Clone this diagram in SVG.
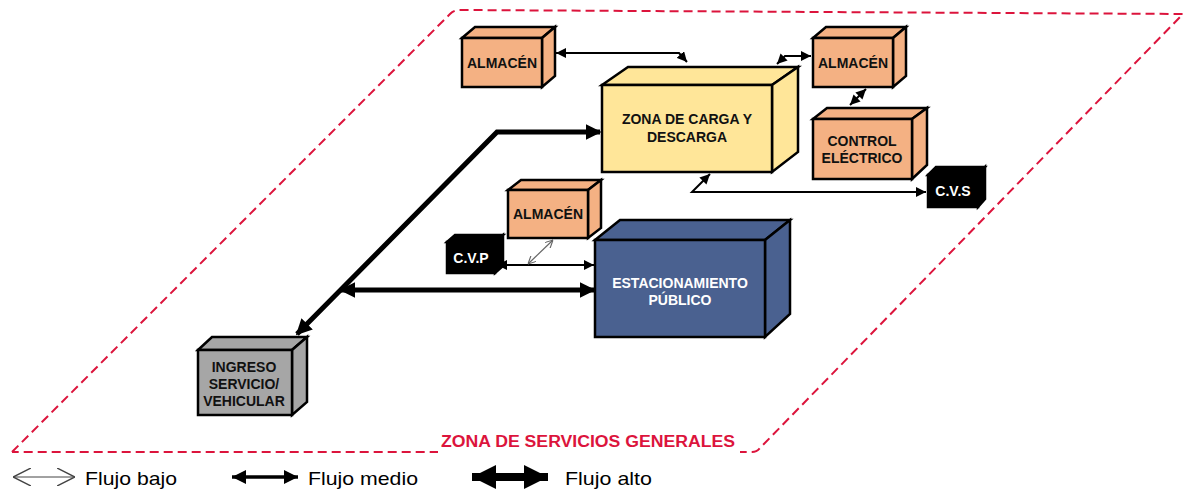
<svg xmlns="http://www.w3.org/2000/svg" width="1187" height="490" viewBox="0 0 1187 490">
<defs>
<style>
.bx{stroke:#000;stroke-width:2.5;stroke-linejoin:miter}
.alm{fill:#f4b183}
.zona{fill:#ffe699}
.est{fill:#4a6190}
.gry{fill:#a6a6a6}
.blk{fill:#000}
.t{font-family:"Liberation Sans",Arial,sans-serif;font-weight:bold;font-size:14px;text-anchor:middle}
.tw{fill:#fff}
.tb{fill:#111}
.med{stroke:#000;stroke-width:2;fill:none}
.thk{stroke:#000;stroke-width:5;fill:none}
.thin{stroke:#666;stroke-width:1.2;fill:none}
.leg{font-family:"Liberation Sans",Arial,sans-serif;font-size:19px;fill:#000}
</style>
<marker id="mh" markerUnits="userSpaceOnUse" viewBox="0 0 10 10" refX="10" refY="5" markerWidth="10" markerHeight="10" orient="auto-start-reverse"><path d="M0,0 L10,5 L0,10 Z" fill="#000"/></marker>
<marker id="mhL" markerUnits="userSpaceOnUse" viewBox="0 0 10 10" refX="10" refY="5" markerWidth="14" markerHeight="14" orient="auto-start-reverse"><path d="M0,0 L10,5 L0,10 Z" fill="#000"/></marker>
<marker id="th" markerUnits="userSpaceOnUse" viewBox="0 0 10 10" refX="9" refY="5" markerWidth="16" markerHeight="16" orient="auto-start-reverse"><path d="M0,0 L10,5 L0,10 Z" fill="#000"/></marker>
<marker id="thL" markerUnits="userSpaceOnUse" viewBox="0 0 10 10" refX="10" refY="5" markerWidth="24" markerHeight="24" orient="auto-start-reverse"><path d="M0,0 L10,5 L0,10 Z" fill="#000"/></marker>
<marker id="oh" markerUnits="userSpaceOnUse" viewBox="0 0 10 10" refX="10" refY="5" markerWidth="8" markerHeight="8" orient="auto-start-reverse"><path d="M0,0 L10,5 L0,10" fill="none" stroke="#666" stroke-width="1.4"/></marker>
<marker id="ohL" markerUnits="userSpaceOnUse" viewBox="0 0 10 10" refX="10" refY="5" markerWidth="18" markerHeight="18" orient="auto-start-reverse"><path d="M0,0 L10,5 L0,10" fill="none" stroke="#444" stroke-width="0.8"/></marker>
</defs>
<rect width="1187" height="490" fill="#fff"/>

<g id="zona-servicios">
<path d="M12,452 L450,14 Q454,10 460,10 L1183,14 L760,448 Q757,452 752,452 L12,452" fill="none" stroke="#dc143c" stroke-width="2" stroke-dasharray="9,5"/>
<rect x="438" y="434" width="302" height="22" fill="#fff"/>
<text x="441" y="447" font-family="'Liberation Sans',Arial,sans-serif" font-weight="bold" font-size="16" fill="#dc143c" textLength="294" lengthAdjust="spacingAndGlyphs">ZONA DE SERVICIOS GENERALES</text>
</g>

<g id="connectors">
<path class="med" d="M556,53 H679 L687,62" marker-start="url(#mh)" marker-end="url(#mh)"/>
<path class="med" d="M777,64 L785,56 H811" marker-start="url(#mh)" marker-end="url(#mh)"/>
<path class="med" d="M866,89 L850,105" marker-start="url(#mh)" marker-end="url(#mh)"/>
<path class="med" d="M710,174 L692,192 H926" marker-start="url(#mh)" marker-end="url(#mh)"/>
<path class="thk" d="M600,132 H497 L297,334" marker-start="url(#th)" marker-end="url(#th)"/>
<path class="thk" d="M341,290 H594" stroke-width="4" marker-start="url(#th)" marker-end="url(#th)"/>
<path class="med" d="M497,265 H594" marker-start="url(#mh)" marker-end="url(#mh)"/>
<path class="thin" d="M553,240 L528,264" marker-start="url(#oh)" marker-end="url(#oh)"/>
</g>

<g id="almacen-1">
<polygon class="bx alm" points="462,38 475,27 555,27 542,38"/>
<polygon class="bx alm" points="542,38 555,27 555,76 542,87"/>
<rect class="bx alm" x="462" y="38" width="80" height="49"/>
<text class="t tb" x="502" y="68">ALMACÉN</text>
</g>

<g id="zona-carga">
<polygon class="bx zona" points="602,85 628,67 798,67 772,85"/>
<polygon class="bx zona" points="772,85 798,67 798,152 772,172"/>
<rect class="bx zona" x="602" y="85" width="170" height="87"/>
<text class="t tb" x="687" y="124">ZONA DE CARGA Y</text>
<text class="t tb" x="687" y="142">DESCARGA</text>
</g>

<g id="almacen-2">
<polygon class="bx alm" points="813,38 826,27 906,27 893,38"/>
<polygon class="bx alm" points="893,38 906,27 906,76 893,87"/>
<rect class="bx alm" x="813" y="38" width="80" height="49"/>
<text class="t tb" x="853" y="68">ALMACÉN</text>
</g>

<g id="control-electrico">
<polygon class="bx alm" points="813,119 827,108 927,108 912,119"/>
<polygon class="bx alm" points="912,119 927,108 927,165 912,179"/>
<rect class="bx alm" x="813" y="119" width="99" height="60"/>
<text class="t tb" x="862" y="146">CONTROL</text>
<text class="t tb" x="862" y="163">ELÉCTRICO</text>
</g>

<g id="cvs">
<polygon class="bx blk" points="928,175 936,167 985,167 978,175"/>
<polygon class="bx blk" points="978,175 985,167 985,199 978,207"/>
<rect class="bx blk" x="928" y="175" width="50" height="32"/>
<text class="t tw" x="953" y="196">C.V.S</text>
</g>

<g id="almacen-3">
<polygon class="bx alm" points="508,190 521,180 601,180 588,190"/>
<polygon class="bx alm" points="588,190 601,180 601,228 588,238"/>
<rect class="bx alm" x="508" y="190" width="80" height="48"/>
<text class="t tb" x="548" y="219">ALMACÉN</text>
</g>

<g id="cvp">
<polygon class="bx blk" points="447,242 455,235 503,235 495,242"/>
<polygon class="bx blk" points="495,242 503,235 503,266 495,273"/>
<rect class="bx blk" x="447" y="242" width="48" height="31"/>
<text class="t tw" x="471" y="263">C.V.P</text>
</g>

<g id="estacionamiento">
<polygon class="bx est" points="595,240 620,220 790,220 765,240"/>
<polygon class="bx est" points="765,240 790,220 790,314 765,337"/>
<rect class="bx est" x="595" y="240" width="170" height="97"/>
<text class="t tw" x="680" y="288">ESTACIONAMIENTO</text>
<text class="t tw" x="680" y="305">PÚBLICO</text>
</g>

<g id="ingreso">
<polygon class="bx gry" points="198,350 212,337 307,337 292,350"/>
<polygon class="bx gry" points="292,350 307,337 307,402 292,415"/>
<rect class="bx gry" x="198" y="350" width="94" height="65"/>
<text class="t tb" x="244" y="372">INGRESO</text>
<text class="t tb" x="244" y="389">SERVICIO/</text>
<text class="t tb" x="244" y="406">VEHICULAR</text>
</g>

<g id="legend">
<path d="M13,477 H75" stroke="#444" stroke-width="1" fill="none" marker-start="url(#ohL)" marker-end="url(#ohL)"/>
<text class="leg" x="85" y="485" textLength="92" lengthAdjust="spacingAndGlyphs">Flujo bajo</text>
<path d="M232,477 H298" stroke="#000" stroke-width="3.5" fill="none" marker-start="url(#mhL)" marker-end="url(#mhL)"/>
<text class="leg" x="308" y="485" textLength="110" lengthAdjust="spacingAndGlyphs">Flujo medio</text>
<path d="M472,477 H548" stroke="#000" stroke-width="8" fill="none" marker-start="url(#thL)" marker-end="url(#thL)"/>
<text class="leg" x="565" y="485" textLength="87" lengthAdjust="spacingAndGlyphs">Flujo alto</text>
</g>
</svg>
